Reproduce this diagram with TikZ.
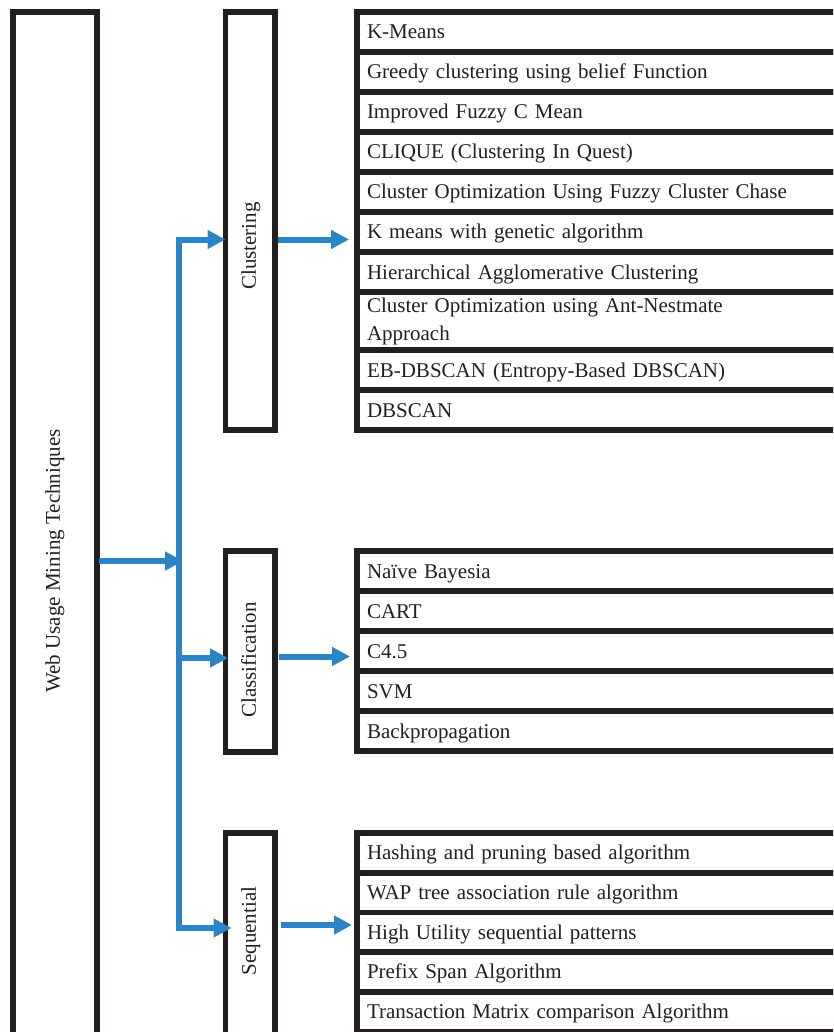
\documentclass[tikz,border=0pt]{standalone}
\usepackage{fontspec}
\setmainfont{Liberation Serif}
\usetikzlibrary{arrows.meta,calc}
\definecolor{ink}{HTML}{231F20}
\definecolor{flowblue}{HTML}{2B84C5}
\begin{document}
\begin{tikzpicture}[x=1pt,y=-1pt,
  every node/.style={font=\fontsize{21}{28}\selectfont, text=ink},
  frame/.style={draw=ink, line width=5.8pt, rectangle, outer sep=0pt, inner sep=0pt},
  cell/.style={frame, anchor=north west, minimum width=503pt, text width=483pt,
               inner xsep=10pt, inner ysep=0pt, align=left, minimum height=40pt},
  onecell/.style={cell, text height=17pt, text depth=3pt},
  vlabel/.style={rotate=90, inner sep=0pt, text height=15.75pt, text depth=4.2pt},
  flow/.style={draw=flowblue, line width=6pt, line join=miter,
               -{Triangle[length=18pt,width=18pt]}},
]
\useasboundingbox (0,0) rectangle (833,1032);
\clip (0,0) rectangle (833,1032);

% main category box
\node[frame, minimum width=84pt, minimum height=1098pt] (wumt) at (55,561) {};
\node[vlabel] (wumtlbl) at (54,561) {Web Usage Mining Techniques};

% technique boxes
\node[frame, minimum width=49.5pt, minimum height=418pt] (clus) at (250.25,221) {};
\node[vlabel] (cluslbl) at (250,246) {Clustering};
\node[frame, minimum width=49.5pt, minimum height=201pt] (clas) at (250.25,651.5) {};
\node[vlabel] (claslbl) at (250,660) {Classification};
\node[frame, minimum width=49.5pt, minimum height=267pt] (seq) at (250.25,966.5) {};
\node[vlabel] (seqlbl) at (250,931) {Sequential};

% clustering algorithms
\node[onecell] (c1) at (357,12) {K-Means};
\node[onecell] (c2) at (357,52) {Greedy clustering using belief Function};
\node[onecell] (c3) at (357,92) {Improved Fuzzy C Mean};
\node[onecell] (c4) at (357,132) {CLIQUE (Clustering In Quest)};
\node[onecell] (c5) at (357,172) {Cluster Optimization Using Fuzzy Cluster Chase};
\node[onecell] (c6) at (357,212) {K means with genetic algorithm};
\node[onecell] (c7) at (357,252) {Hierarchical Agglomerative Clustering};
\node[cell, minimum height=58pt] (c8) at (357,292) {Cluster Optimization using Ant-Nestmate\\Approach};
\node[onecell] (c9) at (357,350) {EB-DBSCAN (Entropy-Based DBSCAN)};
\node[onecell] (c10) at (357,390) {DBSCAN};

% classification algorithms
\node[onecell] (k1) at (357,551) {Naïve Bayesia};
\node[onecell] (k2) at (357,591) {CART};
\node[onecell] (k3) at (357,631) {C4.5};
\node[onecell] (k4) at (357,671) {SVM};
\node[onecell] (k5) at (357,711) {Backpropagation};

% sequential pattern algorithms
\node[onecell, minimum height=39.7pt] (s1) at (357,833) {Hashing and pruning based algorithm};
\node[onecell, minimum height=39.7pt] (s2) at (357,872.7) {WAP tree association rule algorithm};
\node[onecell, minimum height=39.7pt] (s3) at (357,912.4) {High Utility sequential patterns};
\node[onecell, minimum height=39.7pt] (s4) at (357,952.1) {Prefix Span Algorithm};
\node[onecell, minimum height=39.7pt] (s5) at (357,991.8) {Transaction Matrix comparison Algorithm};

% branching connectors
\coordinate (jtop) at (179,239.5);
\coordinate (jmid) at (179,658);
\coordinate (jbot) at (179,928);
\coordinate (jin) at (183,561);
\draw[flow, shorten <=2pt] (wumt.east) -- (jin);
\draw[flow] (jbot) -- (jtop) -- (jtop -| clus.west);
\draw[flow, shorten >=-6pt] (jtop) -- (jbot) -- (jbot -| seq.west);
\draw[flow, shorten >=-2.5pt] (jmid) -- (jmid -| clas.west);

% technique to algorithm list connectors
\draw[flow, shorten <=3pt, shorten >=8pt] (jtop -| clus.east) -- (jtop -| c6.west);
\coordinate (kout) at ($(clas.east)+(4,5)$);
\draw[flow, shorten >=7pt] (kout) -- (kout -| k3.west);
\coordinate (sout) at ($(seq.east)+(6,-41.5)$);
\draw[flow, shorten >=5pt] (sout) -- (sout -| s3.west);
\end{tikzpicture}
\end{document}
